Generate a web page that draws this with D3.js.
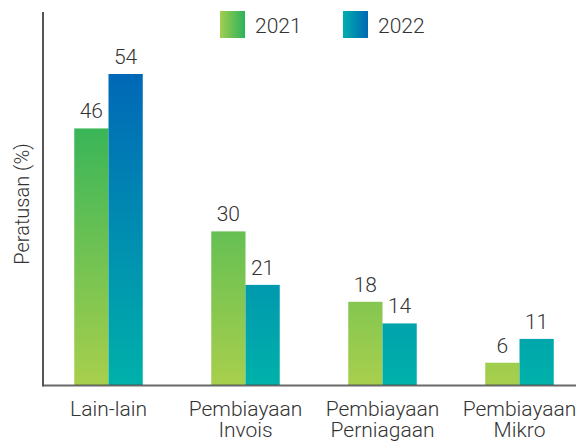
<!DOCTYPE html>
<html>
<head>
<meta charset="utf-8">
<script src="https://cdn.jsdelivr.net/npm/d3@7"></script>
<style>
  body { margin: 0; background: #fff; }
  text { font-family: Roboto, "Open Sans", sans-serif; font-weight: 300; fill: #333; }
</style>
</head>
<body>
<svg width="576" height="441"></svg>
<script>
// data
const categories = ["Lain-lain", "Pembiayaan Invois", "Pembiayaan Perniagaan", "Pembiayaan Mikro"];
const years = ["2021", "2022"];
const values2021 = [46, 30, 18, 6];
const values2022 = [54, 21, 14, 11];

const svg = d3.select("svg");
const baseY = 385, topY = 74, axisX = 43;

const defs = svg.append("defs");
// vertical gradients spanning whole plot so small bars stay light
function vGrad(id, c0, c1) {
  const g = defs.append("linearGradient").attr("id", id)
    .attr("gradientUnits", "userSpaceOnUse")
    .attr("x1", 0).attr("x2", 0).attr("y1", baseY).attr("y2", topY);
  g.append("stop").attr("offset", 0).attr("stop-color", c0);
  g.append("stop").attr("offset", 1).attr("stop-color", c1);
}
function hGrad(id, c0, c1) {
  const g = defs.append("linearGradient").attr("id", id)
    .attr("x1", 0).attr("x2", 1).attr("y1", 0).attr("y2", 0);
  g.append("stop").attr("offset", 0).attr("stop-color", c0);
  g.append("stop").attr("offset", 1).attr("stop-color", c1);
}
vGrad("g2021", "#a8cf4c", "#22b05b");
vGrad("g2022", "#00b1aa", "#0068b7");
hGrad("l2021", "#a4cd4e", "#2ab25b");
hGrad("l2022", "#00aeae", "#0068b4");

const x = d3.scaleBand().domain(categories).range([40, 588])
  .paddingInner(0.5).paddingOuter(0.25);
const xs = d3.scaleBand().domain(years).range([0, x.bandwidth()]);
// original bars are not drawn linearly; a mild power scale follows them best
const y = d3.scalePow().exponent(1.2).domain([0, 54]).range([baseY, topY]);

const rows = categories.map((c, i) => ({ cat: c, vals: [values2021[i], values2022[i]] }));

const groups = svg.append("g").selectAll("g")
  .data(rows).enter().append("g")
  .attr("transform", d => `translate(${x(d.cat)},0)`);

groups.selectAll("rect")
  .data(d => d.vals.map((v, j) => ({ year: years[j], v: v })))
  .enter().append("rect")
  .attr("x", d => xs(d.year))
  .attr("width", xs.bandwidth())
  .attr("y", d => y(d.v))
  .attr("height", d => baseY - y(d.v))
  .attr("fill", d => `url(#g${d.year})`);

groups.selectAll("text.val")
  .data(d => d.vals.map((v, j) => ({ year: years[j], v: v })))
  .enter().append("text")
  .attr("class", "val")
  .attr("x", d => xs(d.year) + xs.bandwidth() / 2)
  .attr("y", d => y(d.v) - 10)
  .attr("text-anchor", "middle")
  .style("font-size", "21px")
  .text(d => d.v);

// category labels, split into two lines
groups.append("text")
  .attr("x", x.bandwidth() / 2)
  .attr("y", 416)
  .attr("text-anchor", "middle")
  .style("font-size", "21px")
  .selectAll("tspan")
  .data(d => d.cat.split(" "))
  .enter().append("tspan")
  .attr("x", x.bandwidth() / 2)
  .attr("dy", (d, i) => i ? 21 : 0)
  .text(d => d);

// axes lines
svg.append("line")
  .attr("x1", axisX).attr("x2", 576).attr("y1", baseY + 0.5).attr("y2", baseY + 0.5)
  .attr("stroke", "#444").attr("stroke-opacity", 0.8).attr("stroke-width", 2);
svg.append("line")
  .attr("x1", axisX).attr("x2", axisX).attr("y1", 12).attr("y2", baseY + 1.5)
  .attr("stroke", "#555").attr("stroke-width", 2);

svg.append("text")
  .attr("transform", "translate(29,204) rotate(-90)")
  .attr("text-anchor", "middle")
  .style("font-size", "20px")
  .text("Peratusan (%)");

// legend
const legend = svg.append("g").selectAll("g")
  .data(years).enter().append("g")
  .attr("transform", (d, i) => `translate(${220 + i * 123},11)`);
legend.append("rect")
  .attr("width", 25).attr("height", 27)
  .attr("fill", d => `url(#l${d})`);
legend.append("text")
  .attr("x", 35).attr("y", 22)
  .style("font-size", "21px")
  .text(d => d);
</script>
</body>
</html>
